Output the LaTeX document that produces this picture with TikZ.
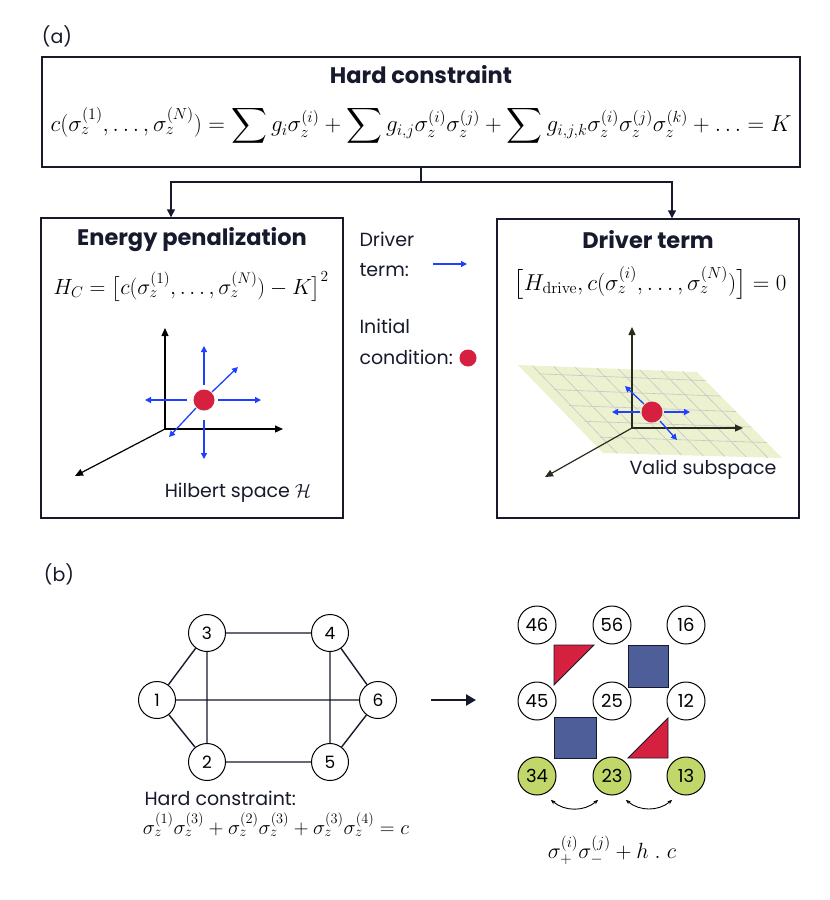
\RequirePackage{fix-cm}
\documentclass[tikz,border=0pt]{standalone}
\usepackage{amsmath}
\usepackage[no-math]{fontspec}
\setmainfont{Poppins}
\definecolor{boxline}{RGB}{22,26,44}
\definecolor{dotred}{RGB}{214,32,64}
\definecolor{drivblue}{RGB}{32,64,255}
\definecolor{sqblue}{RGB}{78,94,152}
\definecolor{leafgreen}{RGB}{193,215,106}
\definecolor{planegreen}{RGB}{236,241,208}
\definecolor{axisolive}{RGB}{40,44,30}
\usetikzlibrary{arrows.meta}
\usetikzlibrary{positioning}
\usetikzlibrary{calc}

\begin{document}
\begin{tikzpicture}[x=1pt, y=-1pt,
  panel/.style={draw=boxline, line width=1.4pt},
  heading/.style={font=\fontsize{22.5}{26}\selectfont\bfseries, text=boxline},
  label/.style={font=\fontsize{19}{22}\selectfont, text=boxline},
  eq/.style={font=\fontsize{23}{26}\selectfont},
  link/.style={line width=1.3pt, boxline, -{Triangle[length=8pt,width=8pt]}},
  axis/.style={line width=1.2pt, -{Triangle[length=8pt,width=7pt]}},
  drive/.style={drivblue, line width=1.3pt, -{Triangle[length=6pt,width=6pt]}},
  init/.style={circle, fill=dotred, inner sep=0pt, minimum size=21pt},
  site/.style={circle, draw=black, fill=white, line width=1pt, inner sep=0pt,
    minimum size=37pt, font=\fontsize{17}{17}\selectfont},
  cell/.style={site, minimum size=38pt, font=\fontsize{18}{18}\selectfont},
  block/.style={draw=boxline, line width=0.8pt}]
  \useasboundingbox (0,0) rectangle (830,900);

  % (a) panels
  \node[label] (tagA) at (57,36) {(a)};
  \node[panel, minimum width=758pt, minimum height=110pt] (hard) at (421,112) {};
  \node[heading] (hardtitle) at (421,75) {Hard constraint};
  \node[eq, inner sep=1pt] (hardeq) at (421,126) {$c(\sigma_z^{(1)},\ldots,\sigma_z^{(N)}) = \displaystyle\sum g_i\sigma_z^{(i)} + \sum g_{i,j}\sigma_z^{(i)}\sigma_z^{(j)} + \sum g_{i,j,k}\sigma_z^{(i)}\sigma_z^{(j)}\sigma_z^{(k)} + \ldots = K$};

  \node[panel, minimum width=302pt, minimum height=300pt] (pen) at (192,368) {};
  \node[heading] (pentitle) at (192,240) {Energy penalization};
  \node[eq, font=\fontsize{22}{26}\selectfont] (peneq) at (191,287) {$H_C = \big[c(\sigma_z^{(1)},\ldots,\sigma_z^{(N)}) - K\big]^2$};

  \node[panel, minimum width=302pt, minimum height=299pt] (drv) at (648,368.5) {};
  \node[heading] (drvtitle) at (648,240) {Driver term};
  \node[eq] (drveq) at (650,283) {$\big[H_\mathrm{drive}, c(\sigma_z^{(i)},\ldots,\sigma_z^{(N)})\big] = 0$};

  % branching connector
  \coordinate (split) at (421,182);
  \draw[line width=1.3pt, boxline] (hard.south) -- (split);
  \draw[link] (split) -| ([xshift=-21pt]pen.north);
  \draw[link] (split) -| ([xshift=24pt]drv.north);

  % legend
  \node[label, anchor=west] (lgd1) at (356,239) {Driver};
  \node[label, anchor=west] (lgd2) at (356,270) {term:};
  \draw[drive] (433,264) -- (467,264);
  \node[label, anchor=west] (lgi1) at (356,326) {Initial};
  \node[label, anchor=west] (lgi2) at (356,357) {condition:};
  \node[init, minimum size=17pt] (lgdot) at (468,358) {};

  % Hilbert space
  \coordinate (hO) at (165,429);
  \draw[axis] (hO) -- (165,328);
  \draw[axis] (hO) -- (283,429);
  \draw[axis] (hO) -- (75,476);
  \node[init] (hdot) at (204,400) {};
  \draw[drive] (204,385) -- (204,346);
  \draw[drive] (204,420) -- (204,459);
  \draw[drive] (187,400) -- (145,400);
  \draw[drive] (218,400) -- (261,400);
  \draw[drive] (212,392) -- (238,367);
  \draw[drive] (196,408) -- (169,437);
  \node[label] (hlab) at (238,493) {Hilbert space $\mathcal{H}$};

  % valid subspace
  \coordinate (pTL) at (518,365);
  \coordinate (pTR) at (697,372);
  \coordinate (pBR) at (782,458);
  \coordinate (pBL) at (603,453);
  \fill[planegreen] (pTL) -- (pTR) -- (pBR) -- (pBL) -- cycle;
  \foreach \t in {0.1,0.28,0.46,0.64,0.82}
    \draw[gray!45, line width=0.6pt] ($(pTL)!\t!(pBL)+(12,0)$) -- ($(pTR)!\t!(pBR)$);
  \foreach \t in {0.08,0.2,0.32,0.44,0.56,0.68,0.8,0.92}
    \draw[gray!45, line width=0.6pt] ($(pTL)!\t!(pTR)$) -- ($(pBL)!\t!(pBR)$);
  \coordinate (vO) at (632,428);
  \draw[axis, axisolive] (vO) -- (632,327);
  \draw[axis, axisolive] (vO) -- (743,428);
  \draw[axis, axisolive] (vO) -- (545,477);
  \node[init] (vdot) at (652,412) {};
  \draw[drive] (640,412) -- (612,412);
  \draw[drive] (664,412) -- (690,412);
  \draw[drive] (644,404) -- (625,386);
  \draw[drive] (660,421) -- (677,440);
  \node[label] (vlab) at (703,470) {Valid subspace};

  % (b) graph
  \node[label] (tagB) at (59,574) {(b)};
  \node[site] (n3) at (207,633) {3};
  \node[site] (n4) at (330,633) {4};
  \node[site] (n1) at (157,700) {1};
  \node[site] (n6) at (378,700) {6};
  \node[site] (n2) at (207,762) {2};
  \node[site] (n5) at (330,762) {5};
  \draw[line width=1.4pt, boxline] (n1) -- (n3) (n1) -- (n2) (n1) -- (n6)
    (n3) -- (n4) (n3) -- (n2) (n4) -- (n5) (n4) -- (n6) (n6) -- (n5) (n2) -- (n5);
  \node[label, anchor=west] (hclab) at (141,798) {Hard constraint:};
  \node[eq, font=\fontsize{20.5}{24}\selectfont] (hceq) at (276,825) {$\sigma_z^{(1)}\sigma_z^{(3)} + \sigma_z^{(2)}\sigma_z^{(3)} + \sigma_z^{(3)}\sigma_z^{(4)} = c$};

  % mapping arrow
  \draw[line width=2.8pt, boxline, -{Triangle[length=10pt,width=11pt]}] ([xshift=34pt]n6.east) -- (476,700);

  % (b) constraint cells
  \filldraw[block, fill=dotred] (554,645) -- (594,645) -- (554,685) -- cycle;
  \filldraw[block, fill=sqblue] (628,645) rectangle (668,687);
  \filldraw[block, fill=sqblue] (554,717) rectangle (596,758);
  \filldraw[block, fill=dotred] (668,718) -- (668,758) -- (628,758) -- cycle;
  \node[cell] (c46) at (537,625) {46};
  \node[cell] (c56) at (612,625) {56};
  \node[cell] (c16) at (686,625) {16};
  \node[cell] (c45) at (537,701) {45};
  \node[cell] (c25) at (612,701) {25};
  \node[cell] (c12) at (686,701) {12};
  \node[cell, fill=leafgreen] (c34) at (537,776) {34};
  \node[cell, fill=leafgreen] (c23) at (612,776) {23};
  \node[cell, fill=leafgreen] (c13) at (686,776) {13};
  \draw[{Stealth[length=5pt]}-{Stealth[length=5pt]}, line width=0.9pt] ([yshift=-10pt]c34.south east) to[bend right=40] ([yshift=-10pt]c23.south west);
  \draw[{Stealth[length=5pt]}-{Stealth[length=5pt]}, line width=0.9pt] ([yshift=-10pt]c23.south east) to[bend right=40] ([yshift=-10pt]c13.south west);
  \node[eq, font=\fontsize{22}{26}\selectfont] (hopeq) at (612,850) {$\sigma_+^{(i)}\sigma_-^{(j)} + h\;.\;c$};
\end{tikzpicture}
\end{document}
